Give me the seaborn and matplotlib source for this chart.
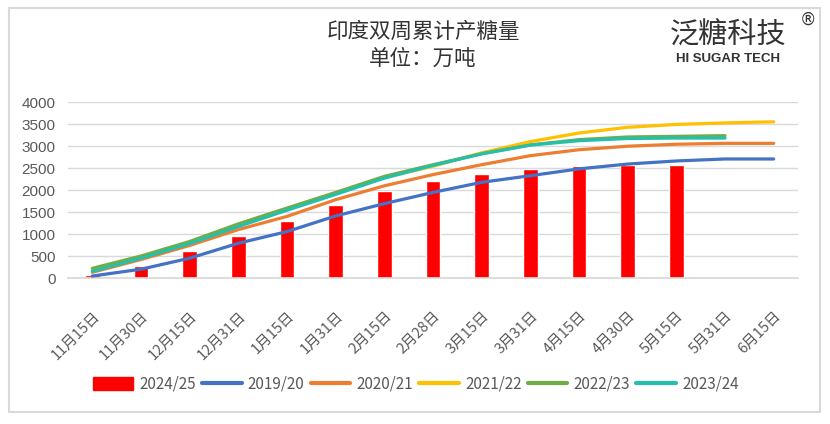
import numpy as np
import pandas as pd
import matplotlib
matplotlib.use('Agg')
import matplotlib.pyplot as plt
import seaborn as sns
from matplotlib.patches import Rectangle, Patch
from matplotlib.lines import Line2D

# 双周日期
dates = ['11月15日', '11月30日', '12月15日', '12月31日', '1月15日', '1月31日', '2月15日',
         '2月28日', '3月15日', '3月31日', '4月15日', '4月30日', '5月15日', '5月31日', '6月15日']

# 2024/25 柱子
bars_2425 = [60, 270, 610, 955, 1300, 1650, 1985, 2205, 2365, 2470, 2545, 2575, 2575]

# 往年累计（万吨）
s1920 = [45, 200, 450, 790, 1055, 1410, 1690, 1945, 2175, 2325, 2480, 2590, 2660, 2705, 2705]
s2021 = [130, 420, 740, 1100, 1400, 1780, 2095, 2350, 2575, 2780, 2915, 2995, 3040, 3060, 3060]
s2122 = [180, 470, 800, 1190, 1560, 1920, 2280, 2540, 2845, 3100, 3295, 3425, 3490, 3525, 3550]
s2223 = [220, 500, 830, 1230, 1590, 1945, 2310, 2575, 2825, 3025, 3145, 3205, 3220, 3235]
s2324 = [150, 450, 780, 1170, 1540, 1900, 2270, 2560, 2820, 3020, 3120, 3170, 3180, 3180]

series = {
    '2019/20': (s1920, '#4472c4'),
    '2020/21': (s2021, '#ed7d31'),
    '2021/22': (s2122, '#ffc000'),
    '2022/23': (s2223, '#70ad47'),
    '2023/24': (s2324, '#26bfad'),
}

sns.set_theme(style='white')
plt.rcParams['font.family'] = ['Noto Sans CJK SC', 'DejaVu Sans']

fig = plt.figure(figsize=(8.3, 4.24), dpi=100)
ax = fig.add_axes([68 / 830, 1 - 278 / 424, 730 / 830, 176 / 424])

gray = '#595959'

bar_df = pd.DataFrame({'date': dates[:len(bars_2425)], 'val': bars_2425})
bar_df['x'] = np.arange(len(bar_df))
ax.bar(bar_df['x'], bar_df['val'], width=0.3, color='#ff0000', zorder=2)

for name, (vals, col) in series.items():
    df = pd.DataFrame({'x': np.arange(len(vals)), 'val': vals})
    sns.lineplot(data=df, x='x', y='val', ax=ax, color=col, lw=2.3, zorder=3)

ax.set_xlim(-0.5, len(dates) - 0.5)
ax.set_ylim(0, 4000)
ax.set_yticks(range(0, 4001, 500))
ax.set_yticklabels([str(v) for v in range(0, 4001, 500)], fontsize=11, color=gray,
                   family=['Liberation Sans', 'DejaVu Sans'])
ax.set_xticks(np.arange(len(dates)))
ax.set_xticklabels(dates, rotation=45, ha='right', rotation_mode='anchor', fontsize=10.5, color=gray)
ax.tick_params(axis='x', pad=22, length=0)
ax.tick_params(axis='y', pad=9, length=0)
ax.grid(axis='y', color='#d9d9d9', lw=1)
ax.set_axisbelow(True)
for sp in ['top', 'right', 'left']:
    ax.spines[sp].set_visible(False)
ax.spines['bottom'].set_color('#d9d9d9')
ax.set_xlabel('')
ax.set_ylabel('')

# 标题
fig.text(423 / 830, 1 - 32 / 424, '印度双周累计产糖量', ha='center', va='center', fontsize=15.5, color='#333333')
fig.text(423 / 830, 1 - 59 / 424, '单位：万吨', ha='center', va='center', fontsize=15.5, color='#333333')

# logo
fig.text(728 / 830, 1 - 36 / 424, '泛糖科技', ha='center', va='center', fontsize=21, color='#333333')
fig.text(728 / 830, 1 - 59 / 424, 'HI SUGAR TECH', ha='center', va='center', fontsize=9.5,
         fontweight='bold', color='#333333', family=['Liberation Sans', 'DejaVu Sans'])
fig.text(808 / 830, 1 - 20 / 424, '®', ha='center', va='center', fontsize=12, color='#333333',
         family=['DejaVu Sans'])

# 图例
handles = [Patch(color='#ff0000', label='2024/25')]
for name, (vals, col) in series.items():
    handles.append(Line2D([0], [0], color=col, lw=3, label=name))
fig.legend(handles=handles, loc='center', bbox_to_anchor=(416 / 830, 1 - 384 / 424), ncol=6,
           frameon=False, fontsize=11, labelcolor=gray, handlelength=2.6, handletextpad=0.4,
           columnspacing=0.4, handleheight=0.9)

# 外框
fig.patches.append(Rectangle((9 / 830, 1 - 412 / 424), 811 / 830, 404 / 424, transform=fig.transFigure,
                             fill=False, edgecolor='#d9d9d9', lw=1.5))

fig.savefig('out.png', dpi=100)
